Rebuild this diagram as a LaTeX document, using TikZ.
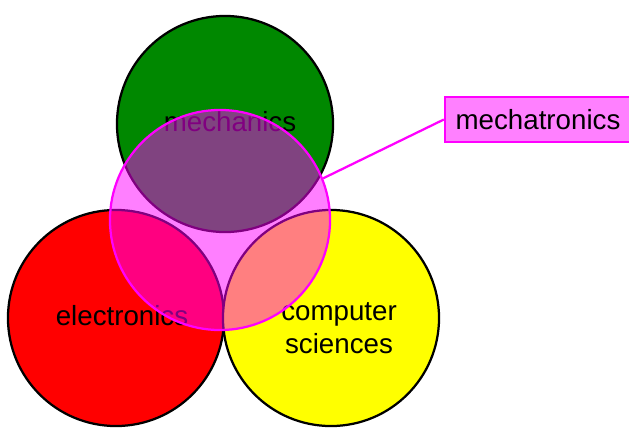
\documentclass[tikz,border=0pt]{standalone}
\usepackage{fontspec}
\setmainfont{Liberation Sans}
\definecolor{mechgreen}{RGB}{0,136,0}
\definecolor{elecred}{RGB}{255,0,0}
\definecolor{compyellow}{RGB}{255,255,0}
\definecolor{mechamagenta}{RGB}{255,0,255}
\definecolor{labelpink}{RGB}{255,128,255}
\begin{document}
\begin{tikzpicture}[
				x = 0.025cm,
				y = -0.025cm,
				font = \fontsize{19.7}{23.6}\selectfont,
				semithick
				]

				\tikzstyle{field}=[
					draw = black,
					circle,
					line width = 1.6pt,
					inner sep = 0pt,
					minimum size = 5.4cm
				]
				\tikzstyle{fieldname}=[
					align = center,
					inner sep = 0pt
				]
				\tikzstyle{overlap}=[
					draw = mechamagenta,
					circle,
					line width = 1.6pt,
					fill = mechamagenta,
					fill opacity = 0.5,
					draw opacity = 1,
					minimum size = 5.5cm
				]
				\tikzstyle{tag}=[
					draw = mechamagenta,
					fill = labelpink,
					line width = 1.6pt,
					minimum width = 4.65cm,
					minimum height = 1.125cm
				]

				\useasboundingbox (0,0) rectangle (629,428);

				\node[field, fill = mechgreen] (mech) at (225,124) {};
				\node[field, fill = elecred] (elec) at (116,318) {};
				\node[field, fill = compyellow] (comp) at (331,318) {};
				\node[fieldname] (mechname) at (230,122) {mechanics};
				\node[fieldname] (elecname) at (122,316) {electronics};
				\node[fieldname] (compname) at (339,328) {computer\\sciences};
				\node[overlap] (mecha) at (220,220) {};

				\node[tag] (label) at (538,119.5) {mechatronics};
				\draw[mechamagenta, line width = 1.6pt] (label.west) -- (mecha.22);
\end{tikzpicture}
\end{document}
